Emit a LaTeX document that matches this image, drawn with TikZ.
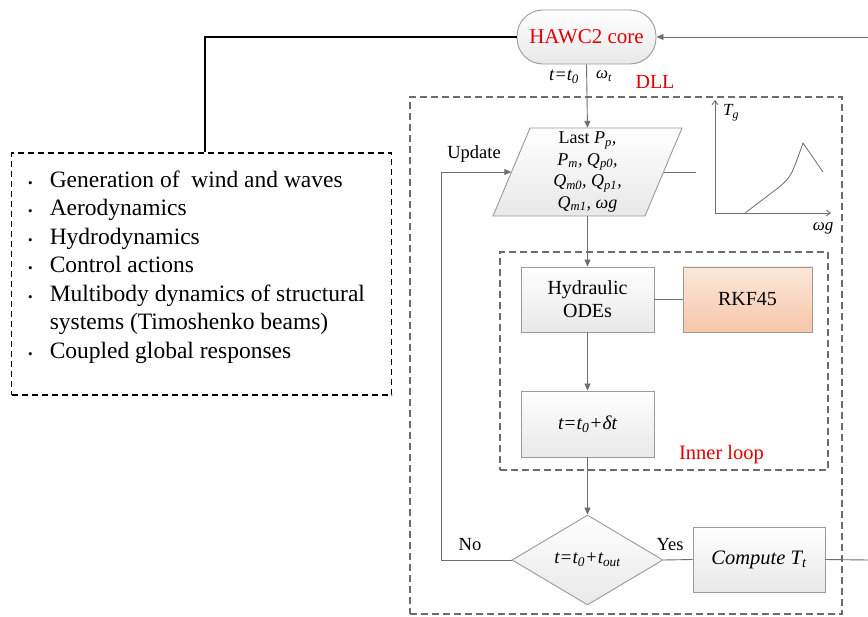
\documentclass[tikz,border=0pt]{standalone}
\usepackage{fontspec}
\setmainfont{Liberation Serif}
\usetikzlibrary{arrows.meta,shapes.geometric,calc}
\newcommand{\mysb}[1]{\textsubscript{#1}}
\definecolor{lnc}{HTML}{6E6E6E}
\definecolor{bdc}{HTML}{9A9A9A}
\definecolor{redt}{HTML}{E00000}
\definecolor{pk1}{HTML}{FCE7DA}
\definecolor{pk2}{HTML}{F6C7A9}
\begin{document}
\begin{tikzpicture}[x=1pt,y=-1pt,
  font=\fontsize{20}{23}\selectfont,
  ln/.style={draw=lnc,line width=0.9pt},
  arr/.style={ln,-{Triangle[length=7pt,width=6pt]}},
  blk/.style={draw=black,line width=1.5pt},
  gbox/.style={draw=bdc,line width=0.9pt,top color=white,bottom color=gray!18,inner sep=0pt,align=center},
  pbox/.style={draw=bdc,line width=0.9pt,top color=pk1,bottom color=pk2,inner sep=0pt,align=center},
  dbox/.style={draw=gray!85!black,line width=1.1pt,dash pattern=on 7pt off 4pt,inner sep=0pt},
  redlab/.style={text=redt,inner sep=0pt},
  lab/.style={inner sep=0pt}]
\useasboundingbox (0,0) rectangle (868,617);
\fill[white] (0,0) rectangle (868,617);
% containers
\node[dbox,minimum width=432pt,minimum height=517pt] (dll) at (626,355.5) {};
\node[dbox,minimum width=328pt,minimum height=218pt] (inner) at (664,361) {};
\node[draw=black,line width=1.4pt,dash pattern=on 6pt off 4pt,minimum width=380pt,minimum height=242pt,inner sep=0pt] (env) at (201.5,274) {};
\node[anchor=north west,inner sep=0pt,align=left] (list) at (28,167) {%
  \fontsize{23.5}{28.5}\selectfont
  \begin{tabular}{@{}l@{\hspace{17pt}}l@{}}
  {\fontsize{13}{13}\selectfont\textbullet} & Generation of\ \ wind and waves\\
  {\fontsize{13}{13}\selectfont\textbullet} & Aerodynamics\\
  {\fontsize{13}{13}\selectfont\textbullet} & Hydrodynamics\\
  {\fontsize{13}{13}\selectfont\textbullet} & Control actions\\
  {\fontsize{13}{13}\selectfont\textbullet} & Multibody dynamics of structural\\
   & systems (Timoshenko beams)\\
  {\fontsize{13}{13}\selectfont\textbullet} & Coupled global responses
  \end{tabular}};
% HAWC2 core
\node[gbox,rounded corners=26pt,minimum width=139pt,minimum height=54pt,text=redt,font=\fontsize{21}{23}\selectfont] (hawc) at (586.5,37) {HAWC2 core};
% parallelogram
\path[draw=bdc,line width=0.9pt,top color=white,bottom color=gray!18] (493,216) -- (530,128) -- (682,128) -- (645,216) -- cycle;
\node[inner sep=0pt,minimum width=152pt,minimum height=88pt,align=center,font=\fontsize{18}{21.5}\selectfont\itshape] (pp) at (587.5,172)
  {\upshape Last \itshape P\mysb{p},\\ P\mysb{m}, Q\mysb{p0},\\ Q\mysb{m0}, Q\mysb{p1},\\ Q\mysb{m1}, ωg};
% inner boxes
\node[gbox,minimum width=133pt,minimum height=65pt] (hyd) at (587.5,299.5) {Hydraulic\\ODEs};
\node[pbox,minimum width=129pt,minimum height=65pt] (rkf) at (747.5,299.5) {RKF45};
\node[gbox,minimum width=133pt,minimum height=66pt,font=\fontsize{19.5}{22}\selectfont\itshape] (tdt) at (587.5,424) {t=t\mysb{0}+δt};
\node[gbox,shape=diamond,aspect=1.68,minimum width=151pt,minimum height=90pt,font=\fontsize{19}{21}\selectfont\itshape] (dia) at (587.5,560) {t=t\mysb{0}+t\mysb{out}};
\node[gbox,minimum width=132pt,minimum height=65pt,font=\fontsize{20.5}{23}\selectfont\itshape] (comp) at (759,559.5) {Compute T\mysb{t}};
% labels
\node[redlab] (dlllab) at (655,82) {DLL};
\node[redlab,font=\fontsize{20.5}{23}\selectfont] (inlab) at (721.5,455) {Inner loop};
\node[lab,font=\fontsize{18.5}{20}\selectfont\itshape] (t0lab) at (564,77) {t=t\mysb{0}};
\node[lab,font=\fontsize{17}{20}\selectfont\itshape] (wtlab) at (604,76) {ω\mysb{t}};
\node[lab,font=\fontsize{18.5}{20}\selectfont] (uplab) at (474,154) {Update};
\node[lab,font=\fontsize{18.5}{20}\selectfont] (nolab) at (470,545) {No};
\node[lab,font=\fontsize{18.5}{20}\selectfont] (yeslab) at (670,545) {Yes};
\node[lab,font=\fontsize{17}{20}\selectfont\itshape] (tglab) at (731,113) {T\mysb{g}};
\node[lab,font=\fontsize{17}{20}\selectfont\itshape] (wglab) at (823,228) {ωg};
% coordinates
\coordinate (c1) at (205,38);
\coordinate (rin) at (868,37);
\coordinate (rout) at (868,560);
\coordinate (gl) at (696,172);
\coordinate (lx) at (441,0);
\coordinate (ax) at (715,213);
\coordinate (ay) at (715,100);
\coordinate (axr) at (831,213);
% connectors
\draw[blk] (env.north -| c1) |- (hawc.west);
\draw[arr] (rin) -- (hawc.east);
\draw[arr] (hawc.south) -- (pp.north);
\draw[ln] (pp.east) -- (gl);
\draw[arr] (pp.south) -- (hyd.north);
\draw[ln] (hyd.east) -- (rkf.west);
\draw[arr] (hyd.south) -- (tdt.north);
\draw[arr] (tdt.south) -- (dia.north);
\draw[ln] (dia.east) -- (comp.west);
\draw[ln] (comp.east) -- (rout);
\draw[arr] (dia.west) -- (dia.west -| lx) -- (pp.west -| lx) -- (pp.west);
% Tg graph
\draw[ln,-{Straight Barb[length=4pt,width=6pt]}] (ax) -- (ay);
\draw[ln,-{Straight Barb[length=4pt,width=6pt]}] (ax) -- (axr);
\draw[draw=lnc,line width=0.8pt] (745,213) -- (778,188) .. controls (791,177) .. (803,143) -- (823,172);
\end{tikzpicture}
\end{document}
